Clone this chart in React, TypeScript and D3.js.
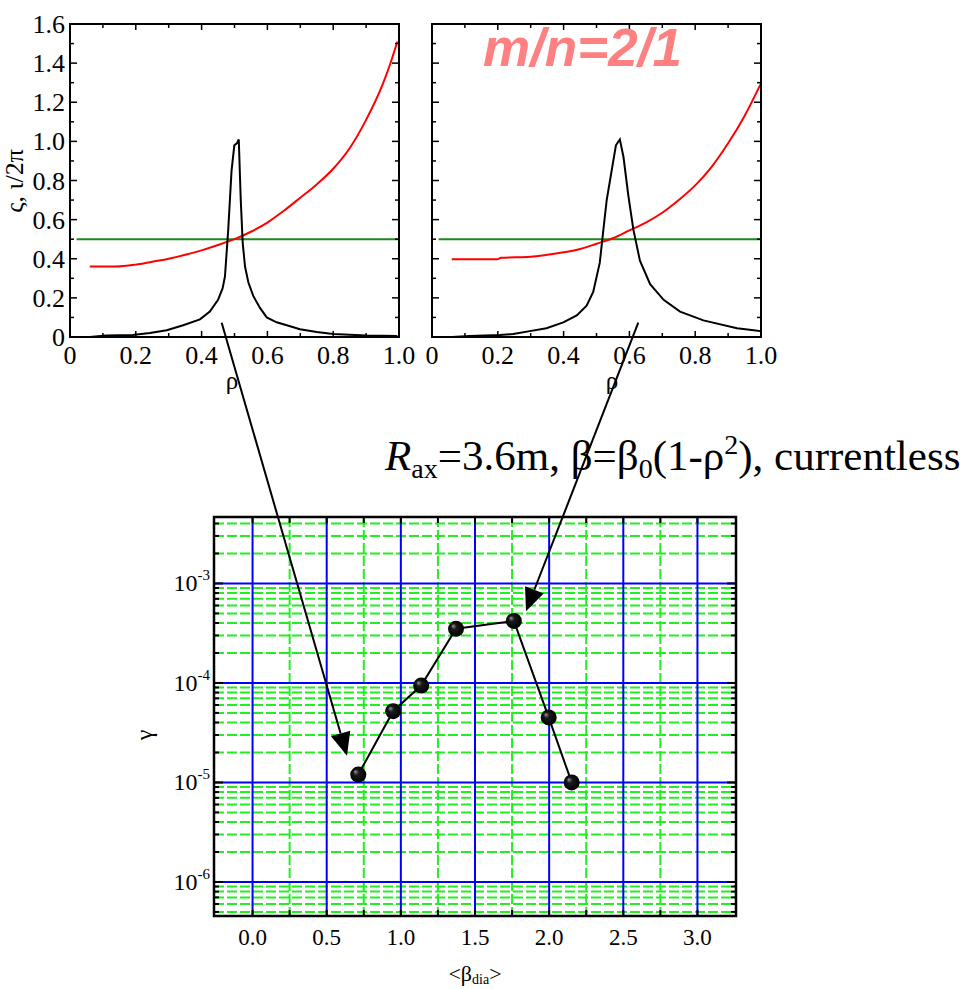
import React from 'react';
import * as d3 from 'd3';

// ---------- Top panels data ----------
const rhoTickValues = [0, 0.2, 0.4, 0.6, 0.8, 1.0];
const rhoTickLabels = ['0', '0.2', '0.4', '0.6', '0.8', '1.0'];
const topYTickValues = [0, 0.2, 0.4, 0.6, 0.8, 1.0, 1.2, 1.4, 1.6];
const topYTickLabels = ['0', '0.2', '0.4', '0.6', '0.8', '1.0', '1.2', '1.4', '1.6'];

// left panel: xi (black)
const leftXiRho = [0.06, 0.11, 0.19, 0.243, 0.294, 0.344, 0.395, 0.425, 0.45, 0.464, 0.471, 0.481, 0.491, 0.4995, 0.507, 0.513, 0.519, 0.525, 0.532, 0.542, 0.557, 0.577, 0.598, 0.628, 0.669, 0.699, 0.75, 0.8, 0.9, 0.995];
const leftXiVal = [0.0, 0.008, 0.01, 0.02, 0.035, 0.06, 0.09, 0.13, 0.19, 0.25, 0.31, 0.55, 0.85, 0.98, 0.99, 1.01, 0.70, 0.48, 0.36, 0.28, 0.21, 0.15, 0.10, 0.075, 0.055, 0.04, 0.025, 0.015, 0.008, 0.005];
// left panel: iota/2pi (red)
const leftIotaRho = [0.06, 0.14, 0.2, 0.25, 0.3, 0.35, 0.4, 0.45, 0.5, 0.55, 0.6, 0.65, 0.7, 0.75, 0.8, 0.85, 0.9, 0.95, 0.97, 0.995];
const leftIotaVal = [0.36, 0.36, 0.37, 0.385, 0.40, 0.42, 0.443, 0.47, 0.50, 0.538, 0.585, 0.645, 0.712, 0.78, 0.86, 0.965, 1.11, 1.29, 1.38, 1.51];

// right panel: xi (black)
const rightXiRho = [0.061, 0.115, 0.206, 0.247, 0.297, 0.348, 0.399, 0.44, 0.47, 0.49, 0.51, 0.521, 0.531, 0.546, 0.559, 0.571, 0.582, 0.597, 0.612, 0.632, 0.663, 0.704, 0.754, 0.825, 0.927, 0.978, 0.998];
const rightXiVal = [0.0, 0.005, 0.01, 0.015, 0.03, 0.045, 0.075, 0.11, 0.16, 0.23, 0.38, 0.55, 0.70, 0.85, 0.98, 1.01, 0.92, 0.72, 0.55, 0.39, 0.27, 0.19, 0.13, 0.085, 0.045, 0.035, 0.03];
// right panel: iota/2pi (red)
const rightIotaRho = [0.06, 0.2, 0.21, 0.3, 0.35, 0.4, 0.45, 0.5, 0.55, 0.6, 0.65, 0.7, 0.75, 0.8, 0.85, 0.9, 0.95, 0.998];
const rightIotaVal = [0.398, 0.398, 0.405, 0.41, 0.42, 0.433, 0.45, 0.477, 0.505, 0.545, 0.585, 0.635, 0.70, 0.775, 0.87, 0.99, 1.13, 1.29];

const resonanceLevel = 0.5;
const resonanceRho = [0.02, 1.0];

// ---------- Bottom panel data ----------
const betaDia = [0.713, 0.948, 1.137, 1.372, 1.762, 1.997, 2.152];
const gammaVal = [1.2e-5, 5.2e-5, 9.4e-5, 3.5e-4, 4.2e-4, 4.5e-5, 1.0e-5];
const betaTickValues = [0, 0.5, 1.0, 1.5, 2.0, 2.5, 3.0];
const betaTickLabels = ['0.0', '0.5', '1.0', '1.5', '2.0', '2.5', '3.0'];
const betaMinorValues = [0.25, 0.75, 1.25, 1.75, 2.25, 2.75];
const gammaDecadeExps = [-6, -5, -4, -3];

// arrows: from top panels (rho, value) to bottom panel (beta, gamma)
const arrowFromRho = [0.461, 0.627];
const arrowFromVal = [0.073, 0.073];
const arrowToBeta = [0.637, 1.844];
const arrowToGamma = [1.86e-5, 5.26e-4];

const SERIF = '"Liberation Serif", "Times New Roman", Times, serif';
const SANS = '"Liberation Sans", Arial, Helvetica, sans-serif';

function TopPanel({ left, right, top, bottom, xiRho, xiVal, ioRho, ioVal, showY, rhoX }: any) {
  const x = d3.scaleLinear().domain([0, 1]).range([left, right]);
  const y = d3.scaleLinear().domain([0, 1.6]).range([bottom, top]);
  const lineLin = d3.line<number>().x((_, i) => x(xiRho[i])).y((v) => y(v)).curve(d3.curveLinear);
  const lineRed = d3.line<number>().x((_, i) => x(ioRho[i])).y((v) => y(v)).curve(d3.curveMonotoneX);
  const ticksX = d3.range(0, 11).map((i) => i / 10);
  const ticksY = d3.range(0, 17).map((i) => i / 10);
  return (
    <g>
      <line x1={x(resonanceRho[0])} x2={x(resonanceRho[1])} y1={y(resonanceLevel)} y2={y(resonanceLevel)} stroke="#1a8a1a" strokeWidth={2} />
      <path d={lineRed(ioVal) || ''} fill="none" stroke="#ff0000" strokeWidth={2} />
      <path d={lineLin(xiVal) || ''} fill="none" stroke="#000" strokeWidth={2} />
      <rect x={left} y={top} width={right - left} height={bottom - top} fill="none" stroke="#000" strokeWidth={2} />
      {ticksX.map((t, i) => {
        const len = i % 2 === 0 ? 6 : 4;
        return (
          <g key={'tx' + i}>
            <line x1={x(t)} x2={x(t)} y1={bottom} y2={bottom - len} stroke="#000" strokeWidth={1.5} />
            <line x1={x(t)} x2={x(t)} y1={top} y2={top + len} stroke="#000" strokeWidth={1.5} />
          </g>
        );
      })}
      {ticksY.map((t, i) => {
        const len = i % 2 === 0 ? 7 : 4;
        return (
          <g key={'ty' + i}>
            <line x1={left} x2={left + len} y1={y(t)} y2={y(t)} stroke="#000" strokeWidth={1.5} />
            <line x1={right} x2={right - len} y1={y(t)} y2={y(t)} stroke="#000" strokeWidth={1.5} />
          </g>
        );
      })}
      {rhoTickValues.map((t, i) => (
        <text key={'lx' + i} x={x(t)} y={bottom + 27} textAnchor="middle" fontFamily={SERIF} fontSize={26}>{rhoTickLabels[i]}</text>
      ))}
      {showY && topYTickValues.map((t, i) => (
        <text key={'ly' + i} x={left - 5} y={y(t)} dy="0.35em" textAnchor="end" fontFamily={SERIF} fontSize={26}>{topYTickLabels[i]}</text>
      ))}
      <text x={rhoX} y={bottom + 52} textAnchor="middle" fontFamily={SERIF} fontSize={25}>ρ</text>
    </g>
  );
}

export default function App() {
  const W = 967, H = 989;
  // bottom panel
  const bL = 214, bR = 736, bT = 517, bB = 916;
  const bx = d3.scaleLinear().domain([-0.26, 3.26]).range([bL, bR]);
  const by = d3.scaleLog().domain([4.55e-7, 4.65e-3]).range([bB, bT]);
  const minorY: number[] = [];
  for (let e = -7; e <= -3; e++) {
    for (let k = 2; k <= 9; k++) {
      const v = k * Math.pow(10, e);
      if (v > 4.55e-7 && v < 4.65e-3) minorY.push(v);
    }
  }
  const majorY = gammaDecadeExps.map((e) => Math.pow(10, e));
  const dataLine = d3.line<number>().x((_, i) => bx(betaDia[i])).y((g) => by(g));

  // top panels scales for arrow starts
  const topL = [70, 432], topR = [399, 761];
  const ty = d3.scaleLinear().domain([0, 1.6]).range([337, 24]);

  const arrows = arrowFromRho.map((r, i) => {
    const sx = d3.scaleLinear().domain([0, 1]).range([topL[i], topR[i]]);
    const x1 = sx(r), y1 = ty(arrowFromVal[i]);
    const x2 = bx(arrowToBeta[i]), y2 = by(arrowToGamma[i]);
    const dx = x2 - x1, dy = y2 - y1;
    const L = Math.sqrt(dx * dx + dy * dy);
    const ux = dx / L, uy = dy / L;
    const hl = 23, hw = 10;
    const bxp = x2 - ux * hl, byp = y2 - uy * hl;
    const head = `M${x2},${y2}L${bxp - uy * hw},${byp + ux * hw}L${bxp + uy * hw},${byp - ux * hw}Z`;
    return { x1, y1, bxp, byp, head };
  });

  return (
    <svg width={W} height={H} style={{ position: 'absolute', left: 0, top: 0, background: '#fff' }}>
      <defs>
        <radialGradient id="ball" cx="0.5" cy="0.5" r="0.5" fx="0.3" fy="0.3">
          <stop offset="0" stopColor="#9a9a9a" />
          <stop offset="0.35" stopColor="#1a1a1a" />
          <stop offset="1" stopColor="#000" />
        </radialGradient>
      </defs>
      <rect x={0} y={0} width={W} height={H} fill="#fff" />

      <TopPanel left={70} right={399} top={24} bottom={337} xiRho={leftXiRho} xiVal={leftXiVal} ioRho={leftIotaRho} ioVal={leftIotaVal} showY={true} rhoX={232} />
      <TopPanel left={432} right={761} top={24} bottom={337} xiRho={rightXiRho} xiVal={rightXiVal} ioRho={rightIotaRho} ioVal={rightIotaVal} showY={false} rhoX={612} />

      <text transform="translate(23,181) rotate(-90)" textAnchor="middle" fontFamily={SERIF} fontSize={26}>ς, ι/2π</text>

      <text x={483} y={66} fontFamily={SANS} fontWeight="bold" fontStyle="italic" fontSize={53} fill="#ff8080">m/n=2/1</text>

      <text x={385} y={470} fontFamily={SERIF} fontSize={43}>
        <tspan fontStyle="italic">R</tspan>
        <tspan fontSize={28} dy={8}>ax</tspan>
        <tspan dy={-8}>=3.6m, β=β</tspan>
        <tspan fontSize={28} dy={8}>0</tspan>
        <tspan dy={-8}>(1-ρ</tspan>
        <tspan fontSize={28} dy={-16}>2</tspan>
        <tspan dy={16}>), currentless</tspan>
      </text>

      {/* bottom panel grid */}
      <g>
        {minorY.map((v, i) => (
          <line key={'my' + i} x1={bL} x2={bR} y1={by(v)} y2={by(v)} stroke="#22ee22" strokeWidth={2} strokeDasharray="10,3" />
        ))}
        {betaMinorValues.map((v, i) => (
          <line key={'mx' + i} x1={bx(v)} x2={bx(v)} y1={bT} y2={bB} stroke="#22ee22" strokeWidth={2} strokeDasharray="10,3" />
        ))}
        {majorY.map((v, i) => (
          <line key={'My' + i} x1={bL} x2={bR} y1={by(v)} y2={by(v)} stroke="#0000ff" strokeWidth={2} />
        ))}
        {betaTickValues.map((v, i) => (
          <line key={'Mx' + i} x1={bx(v)} x2={bx(v)} y1={bT} y2={bB} stroke="#0000ff" strokeWidth={2} />
        ))}
      </g>
      {/* ticks */}
      <g stroke="#000" strokeWidth={2}>
        {minorY.map((v, i) => (
          <g key={'tmy' + i}>
            <line x1={bL} x2={bL + 5} y1={by(v)} y2={by(v)} />
            <line x1={bR} x2={bR - 5} y1={by(v)} y2={by(v)} />
          </g>
        ))}
        {majorY.map((v, i) => (
          <g key={'tMy' + i}>
            <line x1={bL} x2={bL + 9} y1={by(v)} y2={by(v)} />
            <line x1={bR} x2={bR - 9} y1={by(v)} y2={by(v)} />
          </g>
        ))}
        {[...betaTickValues, ...betaMinorValues].map((v, i) => (
          <g key={'tx' + i}>
            <line x1={bx(v)} x2={bx(v)} y1={bT} y2={bT + 6} />
            <line x1={bx(v)} x2={bx(v)} y1={bB} y2={bB - 6} />
          </g>
        ))}
      </g>
      <rect x={bL} y={bT} width={bR - bL} height={bB - bT} fill="none" stroke="#000" strokeWidth={2.5} />

      {/* tick labels */}
      {betaTickValues.map((v, i) => (
        <text key={'bl' + i} x={bx(v)} y={945} textAnchor="middle" fontFamily={SERIF} fontSize={23}>{betaTickLabels[i]}</text>
      ))}
      {gammaDecadeExps.map((e, i) => (
        <text key={'gl' + i} x={210} y={by(Math.pow(10, e)) + 8} textAnchor="end" fontFamily={SERIF} fontSize={24}>
          10<tspan fontSize={15} dy={-11}>{String(e)}</tspan>
        </text>
      ))}
      <text transform="translate(152,735) rotate(-90)" textAnchor="middle" fontFamily={SERIF} fontSize={24}>γ</text>
      <text x={475} y={981} textAnchor="middle" fontFamily={SERIF} fontSize={22}>
        &lt;β<tspan fontSize={14} dy={3}>dia</tspan><tspan dy={-3}>&gt;</tspan>
      </text>

      {/* data */}
      <path d={dataLine(gammaVal) || ''} fill="none" stroke="#000" strokeWidth={2} />
      {betaDia.map((b, i) => (
        <circle key={'pt' + i} cx={bx(b)} cy={by(gammaVal[i])} r={8} fill="url(#ball)" />
      ))}

      {/* arrows */}
      {arrows.map((a, i) => (
        <g key={'ar' + i}>
          <line x1={a.x1} y1={a.y1} x2={a.bxp} y2={a.byp} stroke="#000" strokeWidth={2} />
          <path d={a.head} fill="#000" />
        </g>
      ))}
    </svg>
  );
}
